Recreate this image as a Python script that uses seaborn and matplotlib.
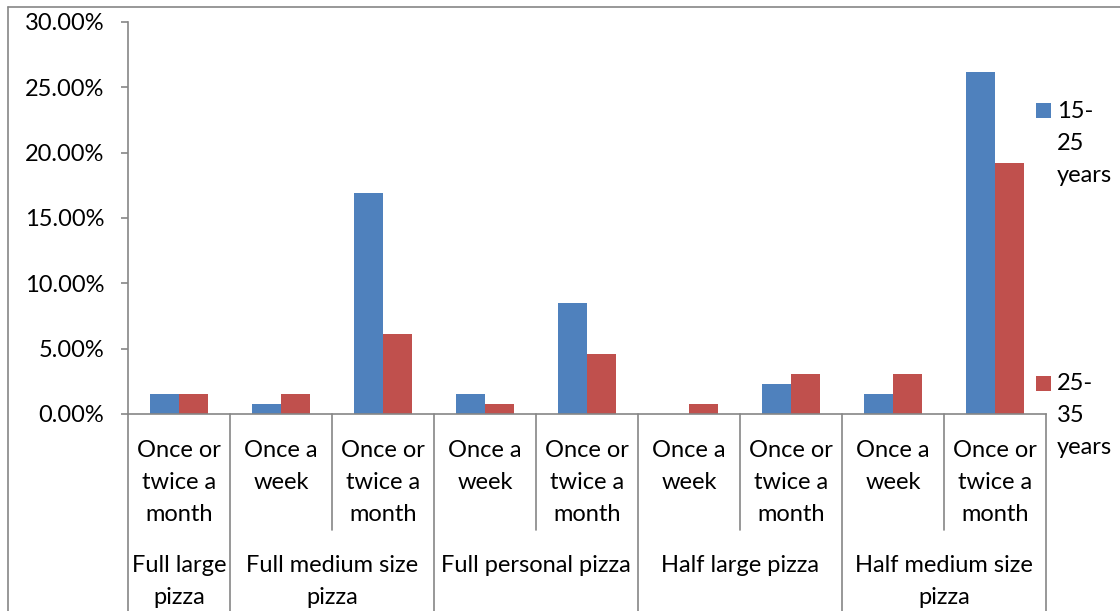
import matplotlib
matplotlib.use("Agg")
import matplotlib.pyplot as plt
import matplotlib.transforms as mtransforms
from matplotlib.patches import Rectangle
from matplotlib.lines import Line2D
from matplotlib.ticker import PercentFormatter
import pandas as pd
import seaborn as sns

# ---- data ----
groups = ["Full large\npizza", "Full medium size\npizza", "Full personal pizza",
          "Half large pizza", "Half medium size\npizza"]
group_members = [1, 2, 2, 2, 2]          # number of frequency categories per group
frequencies = ["Once or\ntwice a\nmonth", "Once a\nweek", "Once or\ntwice a\nmonth",
               "Once a\nweek", "Once or\ntwice a\nmonth", "Once a\nweek",
               "Once or\ntwice a\nmonth", "Once a\nweek", "Once or\ntwice a\nmonth"]
age_15_25 = [1.54, 0.77, 16.92, 1.54, 8.46, 0.00, 2.31, 1.54, 26.15]
age_25_35 = [1.54, 1.54, 6.15, 0.77, 4.62, 0.77, 3.08, 3.08, 19.23]
series_names = ["15-\n25\nyears", "25-\n35\nyears"]
colors = ["#4F81BD", "#C0504D"]
y_ticks = [0, 5, 10, 15, 20, 25, 30]

n = len(frequencies)
keys = [f"c{i}" for i in range(n)]
df = pd.DataFrame({
    "key": keys * 2,
    "value": age_15_25 + age_25_35,
    "series": [series_names[0]] * n + [series_names[1]] * n,
})

sns.set_theme(style="white")
plt.rcParams["font.family"] = ["Lato", "DejaVu Sans"]

FS = 17
LS = 1.66

fig = plt.figure(figsize=(11.2, 6.11), dpi=100)
ax = fig.add_axes([128 / 1120, 1 - 414 / 611, (1046 - 128) / 1120, (414 - 22) / 611])

sns.barplot(data=df, x="key", y="value", hue="series", order=keys,
            hue_order=series_names, palette=colors, width=0.57, gap=0,
            saturation=1, ax=ax, legend=False, edgecolor="none")

ax.set_xlim(-0.5, n - 0.5)
ax.set_ylim(0, 30)
ax.set_yticks(y_ticks)
ax.yaxis.set_major_formatter(PercentFormatter(decimals=2))
ax.set_xticks([])
ax.set_xlabel("")
ax.set_ylabel("")
for s in ["top", "right"]:
    ax.spines[s].set_visible(False)
axis_gray = "#868686"
ax.spines["left"].set_color(axis_gray)
ax.spines["bottom"].set_color(axis_gray)
ax.spines["left"].set_linewidth(1.2)
ax.spines["bottom"].set_linewidth(1.2)
ax.tick_params(axis="y", direction="out", length=5, width=1.2, color=axis_gray,
               pad=12, labelsize=FS, labelcolor="black", left=True)

# ---- two-level category axis ----
trans = mtransforms.blended_transform_factory(ax.transData, ax.transAxes)
px = 1.0 / 392.0   # axes fraction per pixel in y
inner_bottom = -(530 - 414) * px
outer_bottom = -(611 - 414) * px

boundaries = [-0.5]
pos = -0.5
for m in group_members:
    pos += m
    boundaries.append(pos)

for i in range(n + 1):
    xb = i - 0.5
    y0 = outer_bottom if xb in boundaries else inner_bottom
    ax.add_line(Line2D([xb, xb], [0, y0], transform=trans, color=axis_gray,
                       lw=1.2, clip_on=False))

for i, lab in enumerate(frequencies):
    ax.text(i, -(440 - 414) * px, lab, transform=trans, ha="center", va="top",
            fontsize=FS, linespacing=LS, color="black")

start = 0
for g, m in zip(groups, group_members):
    center = start + (m - 1) / 2
    ax.text(center, -(555 - 414) * px, g, transform=trans, ha="center", va="top",
            fontsize=FS, linespacing=LS, color="black")
    start += m

# ---- legend ----
legend_rows = [(103, 112), (376, 384)]
for (sq_top, txt_y), name, c in zip(legend_rows, series_names, colors):
    fig.patches.append(Rectangle((1036 / 1120, 1 - (sq_top + 15) / 611), 15 / 1120, 15 / 611,
                                 transform=fig.transFigure, facecolor=c, edgecolor="none"))
    fig.text(1057 / 1120, 1 - (txt_y - 11) / 611, name, ha="left", va="top",
             fontsize=FS, linespacing=LS, color="black")

# ---- chart frame ----
fig.add_artist(Line2D([8 / 1120, 8 / 1120], [0, 1 - 7 / 611], transform=fig.transFigure,
                      color=axis_gray, lw=1.2))
fig.add_artist(Line2D([8 / 1120, 1], [1 - 7 / 611, 1 - 7 / 611], transform=fig.transFigure,
                      color=axis_gray, lw=1.2))

fig.savefig("out.png", dpi=100, facecolor="white")
